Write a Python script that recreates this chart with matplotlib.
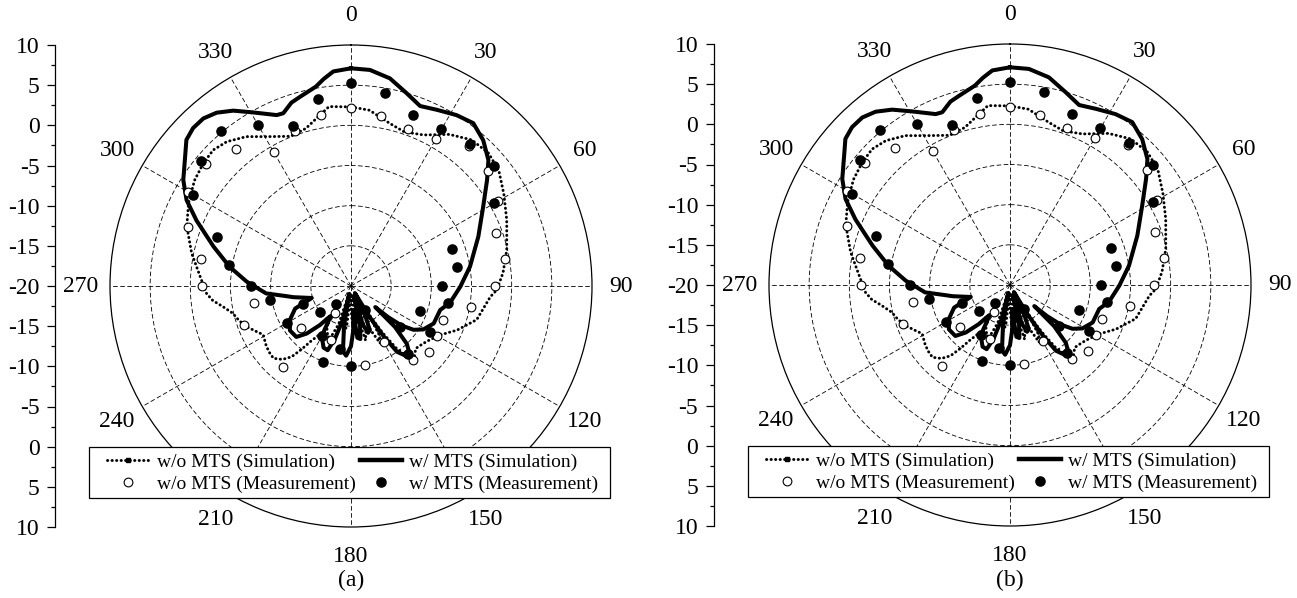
import numpy as np
import matplotlib.pyplot as plt
from matplotlib.lines import Line2D
from matplotlib.patches import Rectangle

plt.rcParams['font.family'] = ['Liberation Serif', 'DejaVu Serif']

# simulated pattern without MTS (dotted), angle in deg / gain in dB
sim_wo_deg = [0, 6, 13.5, 19, 25.6, 33, 39.6, 46, 52, 59, 67, 77, 85, 91.6, 94.4, 105, 112.6, 118.8,
              126, 130, 134, 138, 141, 144, 146, 148, 150, 153, 156, 159, 162, 165, 168, 171, 174,
              177, 180, 183, 186, 189, 192, 195, 198, 201, 204, 207, 210, 213, 216, 218, 220, 223,
              227, 231, 235, 241, 245, 249, 253, 257, 261, 264, 267, 273.5, 281.6, 290, 297, 304,
              309.7, 314.6, 319.3, 325, 330.5, 338, 344, 353, 360]
sim_wo_db = [2.3, 2.0, 0.8, 0.3, 0.85, 2.5, 3.6, 3.8, 3.35, 2.2, 1.06, -0.1, -1.0, -1.85, -2.6, -3.8, -5.7, -7.35,
             -8.3, -8.6, -8.8, -8.2, -8.5, -10.5, -13, -16, -13, -12, -14, -18, -14, -13, -16, -19, -15,
             -14, -17, -19, -15, -14, -17, -19, -15, -13.5, -13, -13.5, -14, -12.8, -11.5, -10, -8.5, -7.5,
             -6.8, -6.9, -7.1, -7.5, -6.8, -6.0, -5.4, -4.9, -3.8, -2.7, -2.0, -1.2, 0.25, 1.75, 2.7, 3.5,
             3.9, 4.1, 3.7, 2.7, 1.36, 0.1, 0.4, 2.5, 2.3]

# simulated pattern with MTS (solid)
sim_w_deg = [0, 5, 10.6, 16, 21, 26, 31.7, 36.9, 42.2, 47.5, 52, 59, 68.8, 80.8, 90.4, 99.6, 105, 114.4,
             121, 125, 128, 130, 131, 133, 136, 139, 142, 145, 147, 149, 151, 154, 157, 160, 163, 165,
             167, 170, 173, 175, 177, 180, 184, 187, 190, 192, 194, 197, 200, 204, 208, 211, 214, 216,
             218.5, 223, 227, 234, 241, 248, 253, 259, 261.4, 265, 272.4, 279, 286, 293, 297.6, 302.3,
             308, 311.6, 315, 318.6, 322.2, 326.1, 330.6, 336.5, 338.6, 342, 345, 350, 352.5, 355.3, 360]
sim_w_db = [7.1, 7.0, 6.3, 5.0, 4.0, 4.4, 5.0, 5.35, 4.5, 3.2, 1.5, -0.8, -3.0, -5.0, -6.4, -7.5, -8.5, -8.7,
            -9.5, -10.5, -12, -14, -16, -12.5, -10, -8.9, -9, -10, -12.5, -15.5, -19, -16, -14, -13.8, -15, -18.5,
            -15, -13.3, -13.5, -17, -14.5, -12.5, -11.3, -11.8, -15, -19, -15.5, -13, -11.5, -11.6, -12.4, -13.5, -15.5, -15,
            -13.8, -11.9, -10.7, -10.6, -11.3, -12.5, -14.9, -12.7, -11.7, -9.4, -7.0, -4.7, -2.2, 0.9, 3.1, 4.7,
            6.2, 7.4, 7.8, 7.8, 7.3, 6.3, 4.8, 3.2, 3.1, 4.0, 4.4, 5.2, 6.0, 6.8, 7.1]

# measurement without MTS (open circles)
meas_wo_deg = [0, 10, 20, 30, 40, 50, 60, 70, 80, 90, 100, 110, 120, 130, 140, 150, 170, 200, 210, 220,
               230, 250, 260, 270, 280, 290, 300, 310, 320, 330, 340, 350]
meas_wo_db = [2.1, 1.5, 0.8, 1.1, 2.8, 2.3, 1.2, -0.8, -0.5, -2.1, -4.8, -7.8, -7.6, -7.3, -8.0, -11.9, -10.0,
              -12.9, -16.1, -6.9, -11.9, -5.8, -7.7, -1.5, -1.0, 1.6, 3.5, 3.6, 2.2, -0.8, 0.5, 1.6]

# measurement with MTS (filled circles)
meas_w_deg = [0, 10, 20, 30, 40, 50, 60, 70, 80, 90, 100, 110, 120, 130, 140, 150, 160, 170, 180, 190,
              200, 210, 220, 230, 240, 250, 260, 270, 280, 290, 300, 310, 320, 330, 340, 350]
meas_w_db = [5.3, 4.4, 2.6, 2.5, 3.0, 3.3, 0.6, -6.6, -6.6, -8.7, -7.7, -10.9, -8.6, -12.0, -9.0, -16.5, -17.0,
             -16.0, -10.0, -12.0, -9.9, -12.8, -17.0, -15.0, -10.8, -13.6, -9.8, -7.6, -4.6, -2.2, 2.7, 4.3,
             5.2, 3.2, 1.2, 3.7]

theta_ticks = list(range(0, 360, 30))
theta_labels = [str(t) for t in theta_ticks]
axis_vals = list(range(-30, 31, 5))
axis_labels = [str(-20 + abs(v)) for v in axis_vals]
legend_labels = ['w/o MTS (Simulation)', 'w/o MTS (Measurement)',
                 'w/ MTS (Simulation)', 'w/ MTS (Measurement)']

W, H = 1297, 598
R = 241
dots = (0, (0.1, 1.45))

fig = plt.figure(figsize=(W / 100, H / 100), dpi=100)


def draw_panel(cx, cy, axis_x, tag):
    # left dB scale (mirrored across the centre)
    lax = fig.add_axes([axis_x / W, 1 - (cy + R) / H, 0.01, 2 * R / H])
    lax.set_ylim(-30, 30)
    lax.set_yticks(axis_vals)
    lax.set_yticklabels(axis_labels, fontsize=17)
    lax.set_yticks(np.arange(-27.5, 30, 5), minor=True)
    lax.set_xticks([])
    for s in ['top', 'right', 'bottom']:
        lax.spines[s].set_visible(False)
    lax.spines['left'].set_linewidth(0.9)
    lax.tick_params(axis='y', which='major', length=6, width=0.9, pad=5)
    lax.tick_params(axis='y', which='minor', length=2.7, width=0.9)
    lax.patch.set_visible(False)

    ax = fig.add_axes([(cx - R) / W, 1 - (cy + R) / H, 2 * R / W, 2 * R / H], projection='polar')
    ax.set_theta_zero_location('N')
    ax.set_theta_direction(-1)
    ax.set_ylim(-20, 10)
    ax.set_yticks([-15, -10, -5, 0, 5])
    ax.set_yticklabels([])
    ax.set_xticks(np.deg2rad(theta_ticks))
    ax.set_xticklabels(theta_labels, fontsize=17)
    ax.set_xticks(np.deg2rad(np.arange(15, 360, 30)), minor=True)
    ax.tick_params(axis='x', which='major', length=0, pad=14)
    ax.tick_params(axis='x', which='minor', direction='in', length=4, width=0.8)
    ax.grid(True, which='major', color='black', linestyle=(0, (5.5, 3)), linewidth=0.6)
    ax.spines['polar'].set_linewidth(0.9)

    ax.plot(np.deg2rad(sim_wo_deg), sim_wo_db, color='black', lw=2.1, linestyle=dots,
            dash_capstyle='round', zorder=3)
    ax.plot(np.deg2rad(sim_w_deg), sim_w_db, color='black', lw=2.9, solid_joinstyle='round', zorder=3)
    ax.plot(np.deg2rad(meas_wo_deg), meas_wo_db, 'o', mfc='white', mec='black', ms=6.3, mew=0.8, zorder=4)
    ax.plot(np.deg2rad(meas_w_deg), meas_w_db, 'o', color='black', ms=6.6, zorder=5)

    # legend frame drawn separately so its padding matches the original
    box = Rectangle(((cx - 262) / W, 1 - (cy + 212) / H), 521 / W, 51 / H, transform=fig.transFigure,
                    facecolor='white', edgecolor='black', lw=0.9, zorder=9, clip_on=False)
    ax.add_artist(box)

    handles = [
        Line2D([], [], color='black', lw=2.1, linestyle=dots, dash_capstyle='round', marker='s', ms=3.5),
        Line2D([], [], ls='none', marker='o', mfc='white', mec='black', ms=6.3, mew=0.8),
        Line2D([], [], color='black', lw=3.2),
        Line2D([], [], ls='none', marker='o', color='black', ms=6.6),
    ]
    leg = ax.legend(handles, legend_labels, ncol=2, loc='upper left',
                    bbox_to_anchor=((cx - 244) / W, 1 - (cy + 167) / H), bbox_transform=fig.transFigure,
                    fontsize=14, frameon=False, borderpad=0,
                    handlelength=2.2, handletextpad=0.36, columnspacing=0.2, labelspacing=0.22,
                    borderaxespad=0, numpoints=1)
    leg.set_zorder(10)

    fig.text(cx / W, 1 - 580 / H, tag, ha='center', va='center', fontsize=17)


draw_panel(351, 286, 55, '(a)')
draw_panel(1010, 285, 713.5, '(b)')

fig.savefig('out.png', dpi=100)
